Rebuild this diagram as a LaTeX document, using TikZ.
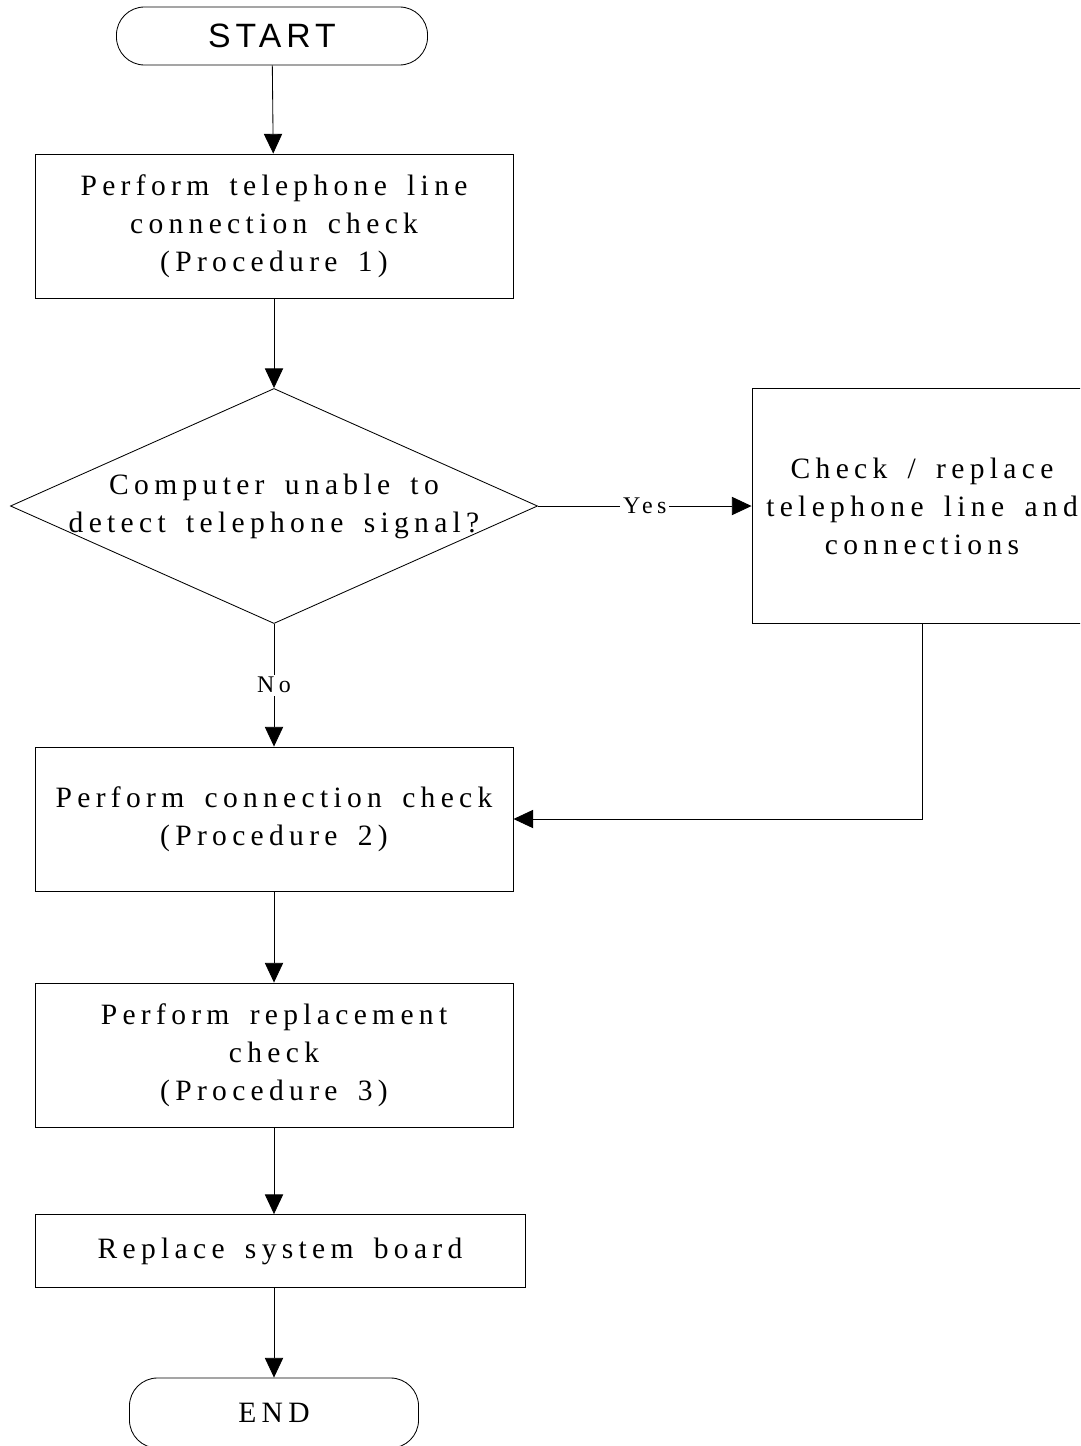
\documentclass[tikz,border=0pt]{standalone}
\usepackage{fontspec}
\setmainfont{Liberation Serif}
\newfontfamily\flowfont[LetterSpace=18,WordSpace=1.6]{Liberation Serif}
\newfontfamily\termfont[LetterSpace=15]{Liberation Sans}
\usetikzlibrary{positioning}
\usetikzlibrary{shapes.geometric}
\usetikzlibrary{arrows.meta}

\begin{document}
\begin{tikzpicture}[x=0.025cm, y=-0.025cm,
			termnode/.style={draw=black, line width=0.6pt, rounded corners=0.7cm, align=center, inner sep=0pt},
			boxnode/.style={draw=black, line width=0.6pt, fill=white, align=center, inner sep=0pt, minimum width=11.95cm, minimum height=3.6cm, font=\fontsize{21}{27}\selectfont\flowfont},
			decisionnode/.style={diamond, draw=black, line width=0.6pt, aspect=2.24, align=center, inner sep=0pt, minimum width=13.175cm, minimum height=5.875cm, font=\fontsize{21}{27}\selectfont\flowfont},
			flowarrow/.style={draw=black, line width=0.6pt, -{Triangle[length=14pt, width=13pt]}},
			answer/.style={fill=white, inner sep=2pt, font=\fontsize{17}{20}\selectfont\flowfont},
			]
			\useasboundingbox (0,0) rectangle (1080,1446);
			\clip (0,0) rectangle (1080,1446);
			%Nodes
			\node[termnode, minimum width=7.775cm, minimum height=1.45cm, font=\fontsize{24}{28}\selectfont\termfont]   (start)   at (272,36)   {START};
			\node[boxnode]                  (check1)  at (274,226)  {Perform telephone line\\connection check\\(Procedure 1)};
			\node[decisionnode]             (detect)  at (274,506)  {\makebox[0pt]{Computer unable to}\\\makebox[0pt]{detect telephone signal?}};
			\node[boxnode, minimum width=8.5cm, minimum height=5.875cm] (replace) at (922,506) {Check / replace\\telephone line and\\connections};
			\node[boxnode]                  (check2)  at (274,819)  {Perform connection check\\(Procedure 2)};
			\node[boxnode]                  (check3)  at (274,1055) {Perform replacement\\check\\(Procedure 3)};
			\node[boxnode, minimum width=12.25cm, minimum height=1.825cm] (board) at (280,1251) {Replace system board};
			\node[termnode, minimum width=7.225cm, minimum height=1.75cm, font=\fontsize{21}{24}\selectfont\flowfont] (stop) at (274,1413) {END};

			%Lines
			\draw[flowarrow] (start) -- (check1);
			\draw[flowarrow] (check1) -- (detect);
			\draw[flowarrow] (detect.east) -- node[answer] {Yes} (replace.west);
			\draw[flowarrow] (detect.south) -- node[answer, pos=0.5] {No} (check2.north);
			\draw[flowarrow] (replace.south) |- (check2.east);
			\draw[flowarrow] (check2) -- (check3);
			\draw[flowarrow] (check3.south) -- (check3.south |- board.north);
			\draw[flowarrow] (board.south -| stop.north) -- (stop.north);
\end{tikzpicture}
\end{document}
